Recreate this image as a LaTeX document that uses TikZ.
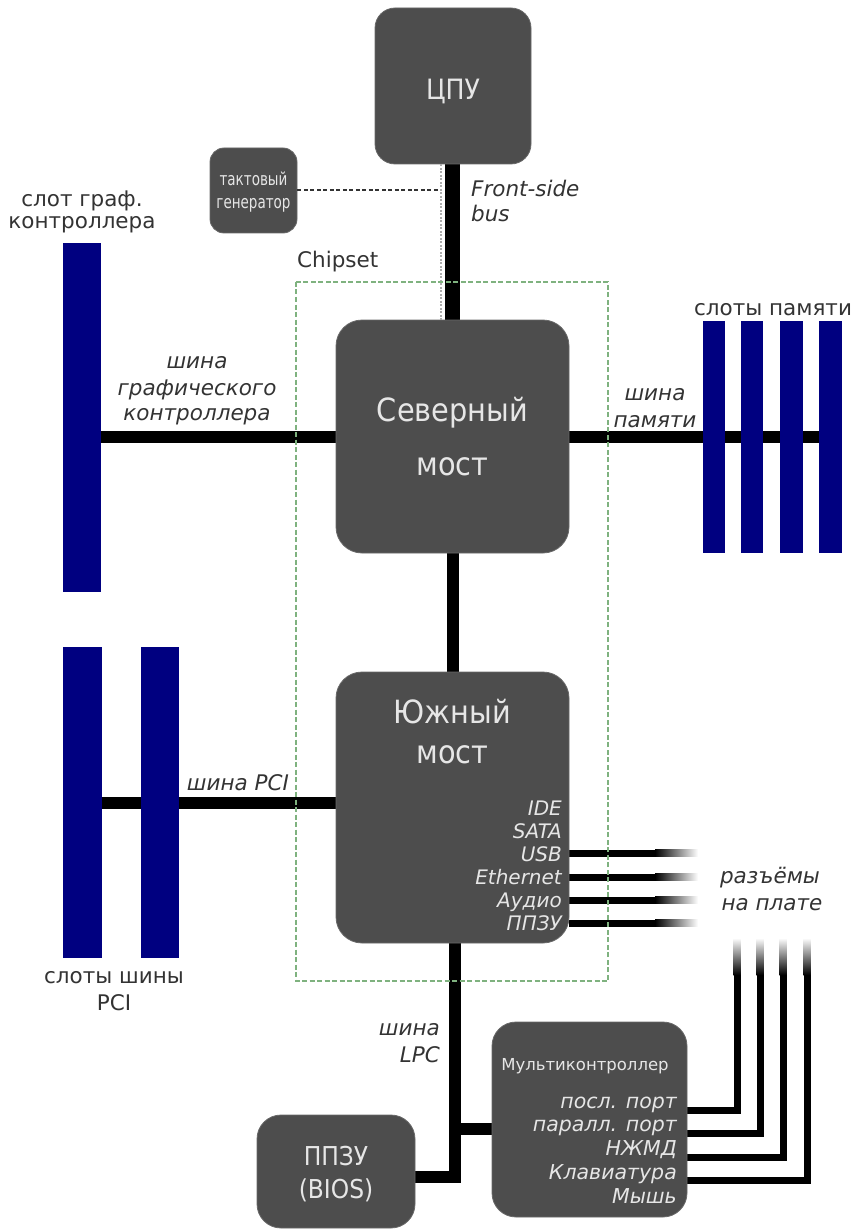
\documentclass[tikz,border=0pt]{standalone}
\usepackage{fontspec}
\setmainfont{DejaVu Sans}
\newfontfamily\boxfont[FakeStretch=0.9]{DejaVu Sans}
\newfontfamily\clkfont[FakeStretch=0.75]{DejaVu Sans}
\definecolor{boxgray}{HTML}{4D4D4D}
\definecolor{boxtext}{HTML}{E6E6E6}
\definecolor{slotblue}{HTML}{000080}
\definecolor{lbltext}{HTML}{333333}
\definecolor{chipgreen}{HTML}{7FB27F}
\pgfdeclarelayer{bg}
\pgfsetlayers{bg,main}
\begin{document}
\begin{tikzpicture}[x=1pt,y=-1pt,
  chip/.style={fill=boxgray, draw=boxgray!85!white, line width=0.8pt, rounded corners=20pt, inner sep=0},
  slot/.style={fill=slotblue, inner sep=0},
  bus/.style={line width=12pt, black},
  pin/.style={line width=7pt, black, line join=miter},
  lbl/.style={text=lbltext, inner sep=0, anchor=base, font=\fontsize{21.5}{24}\selectfont},
  ilbl/.style={lbl, font=\fontsize{21.5}{24}\selectfont\itshape},
  bigtxt/.style={text=boxtext, inner sep=0, anchor=base, font=\boxfont\fontsize{32}{36}\selectfont},
  midtxt/.style={text=boxtext, inner sep=0, anchor=base, font=\boxfont\fontsize{28}{32}\selectfont},
  itemtxt/.style={text=boxtext, inner sep=0, anchor=base east, font=\fontsize{20}{23}\selectfont\itshape},
]
\useasboundingbox (0,0) rectangle (854,1230);

% boxes
\node[chip, minimum width=156pt, minimum height=156pt] (cpu) at (453,86) {};
\node[chip, rounded corners=14pt, minimum width=87pt, minimum height=85pt] (clk) at (253.5,190.5) {};
\node[chip, rounded corners=26pt, minimum width=233pt, minimum height=233pt] (nb) at (452.5,436.5) {};
\node[chip, rounded corners=26pt, minimum width=233pt, minimum height=271pt] (sb) at (452.5,807.5) {};
\node[chip, rounded corners=24pt, minimum width=195pt, minimum height=195pt] (mc) at (589.5,1119.5) {};
\node[chip, rounded corners=24pt, minimum width=158pt, minimum height=113pt] (bios) at (336,1171.5) {};

% slots
\node[slot, minimum width=38pt, minimum height=349pt] (gslot) at (82,417.5) {};
\node[slot, minimum width=22pt, minimum height=232pt] (m1) at (714,437) {};
\node[slot, minimum width=22pt, minimum height=232pt] (m2) at (752,437) {};
\node[slot, minimum width=23pt, minimum height=232pt] (m3) at (791.5,437) {};
\node[slot, minimum width=23pt, minimum height=232pt] (m4) at (830.5,437) {};
\node[slot, minimum width=39pt, minimum height=311pt] (p1) at (82.5,802.5) {};
\node[slot, minimum width=38pt, minimum height=311pt] (p2) at (160,802.5) {};

% buses
\coordinate (pcib) at (336,803);
\coordinate (lpcB) at (455,1177);
\coordinate (lpcM) at (455,1129);
\coordinate (tap) at (441,190.5);
\begin{pgfonlayer}{bg}
\draw[bus, line width=15pt] (nb.north |- cpu.south) -- (nb.north);
\draw[bus] (nb.south) -- (sb.north);
\draw[bus] (nb.west) -- (gslot.east |- nb.west);
\draw[bus] (nb.east) -- (m4.west |- nb.east);
\draw[bus] (sb.west |- pcib) -- (p1.east |- pcib);
\draw[bus, line join=miter] (sb.south -| lpcB) -- (lpcB) -- (bios.east |- lpcB);
\draw[bus] (lpcM) -- (mc.west |- lpcM);
\foreach \y [count=\i] in {853,877,900,923}{
  \coordinate (sp\i) at (656,\y);
  \draw[pin] (sb.east |- sp\i) -- (sp\i);
  \shade[left color=black, right color=white] (655,\y-3.5) rectangle (698,\y+3.5);
}
\foreach \y/\x [count=\i] in {1110/737, 1133/760, 1157/783, 1180/807}{
  \coordinate (mp\i) at (\x,\y);
  \coordinate (mt\i) at (\x,974);
  \draw[pin] (mc.east |- mp\i) -- (mp\i) -- (mt\i);
  \shade[top color=white, bottom color=black] (\x-3.5,938) rectangle (\x+3.5,975);
}
\end{pgfonlayer}

% clock lines
\draw[lbltext, line width=2pt, dash pattern=on 4pt off 2.5pt] (clk.east) -- (tap);
\draw[gray!65, line width=2pt, dash pattern=on 2pt off 1.5pt] (cpu.south -| tap) -- (nb.north -| tap);

% chipset frame
\draw[chipgreen, line width=1.3pt, dash pattern=on 5pt off 2.5pt] (296,282) rectangle (608,981);
\node[lbl, anchor=base west] (chipset) at (297,268) {Chipset};

% box texts
\node[midtxt] (cpuT) at (453,100) {ЦПУ};
\node[text=boxtext, inner sep=0, anchor=base, font=\clkfont\fontsize{18}{22}\selectfont] (clkT1) at (253.5,186) {тактовый};
\node[text=boxtext, inner sep=0, anchor=base, font=\clkfont\fontsize{18}{22}\selectfont] (clkT2) at (253.5,209) {генератор};
\node[bigtxt] (nbT1) at (452.5,421) {Северный};
\node[bigtxt] (nbT2) at (452.5,475) {мост};
\node[bigtxt] (sbT1) at (452.5,723) {Южный};
\node[bigtxt] (sbT2) at (452.5,763) {мост};
\node[itemtxt] (sbI1) at (562,815) {IDE};
\node[itemtxt] (sbI2) at (562,838) {SATA};
\node[itemtxt] (sbI3) at (562,861) {USB};
\node[itemtxt] (sbI4) at (562,884) {Ethernet};
\node[itemtxt] (sbI5) at (562,907) {Аудио};
\node[itemtxt] (sbI6) at (562,930) {ППЗУ};
\node[text=boxtext, inner sep=0, anchor=base, font=\fontsize{16.5}{20}\selectfont] (mcT) at (585,1070) {Мультиконтроллер};
\node[itemtxt, font=\fontsize{20.5}{24}\selectfont\itshape] (mcI1) at (677,1108) {посл. порт};
\node[itemtxt, font=\fontsize{20.5}{24}\selectfont\itshape] (mcI2) at (677,1131) {паралл. порт};
\node[itemtxt, font=\fontsize{20.5}{24}\selectfont\itshape] (mcI3) at (677,1155) {НЖМД};
\node[itemtxt, font=\fontsize{20.5}{24}\selectfont\itshape] (mcI4) at (677,1179) {Клавиатура};
\node[itemtxt, font=\fontsize{20.5}{24}\selectfont\itshape] (mcI5) at (677,1203) {Мышь};
\node[midtxt, font=\boxfont\fontsize{26}{30}\selectfont] (biosT1) at (336,1165) {ППЗУ};
\node[midtxt, font=\boxfont\fontsize{26}{30}\selectfont] (biosT2) at (336,1198) {(BIOS)};

% outside labels
\node[ilbl, anchor=base west] (fsb1) at (471,197) {Front-side};
\node[ilbl, anchor=base west] (fsb2) at (471,222) {bus};
\node[lbl] (gs1) at (82,207) {слот граф.};
\node[lbl] (gs2) at (82,229) {контроллера};
\node[ilbl] (gb1) at (197,368) {шина};
\node[ilbl] (gb2) at (197,395) {графического};
\node[ilbl] (gb3) at (197,420) {контроллера};
\node[lbl] (ms) at (773,315) {слоты памяти};
\node[ilbl] (mb1) at (655,400) {шина};
\node[ilbl] (mb2) at (655,427) {памяти};
\node[ilbl] (pb) at (238,790) {шина PCI};
\node[lbl] (ps1) at (114,983) {слоты шины};
\node[lbl] (ps2) at (114,1010) {PCI};
\node[ilbl] (con1) at (770,883) {разъёмы};
\node[ilbl] (con2) at (772,910) {на плате};
\node[ilbl, anchor=base east] (lpc1) at (440,1035) {шина};
\node[ilbl, anchor=base east] (lpc2) at (440,1062) {LPC};
\end{tikzpicture}
\end{document}
